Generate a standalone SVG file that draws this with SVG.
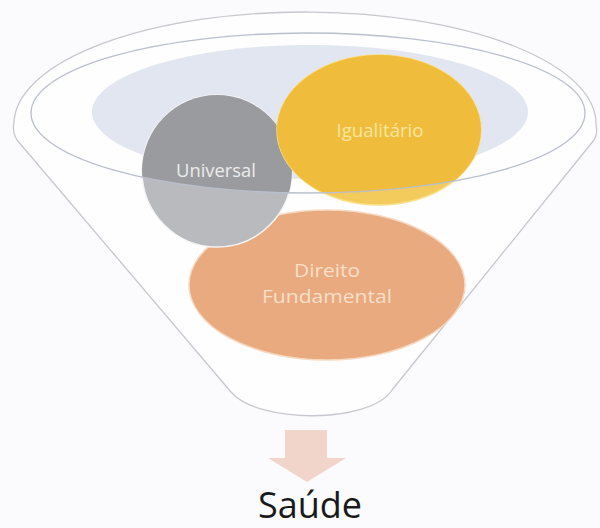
<svg xmlns="http://www.w3.org/2000/svg" width="600" height="528" viewBox="0 0 600 528">
  <style>
    .lbl { font-family: "Open Sans", "Noto Sans", "Liberation Sans", sans-serif; text-anchor: middle; }
    .rimline { fill: none; stroke: #b9bfcb; stroke-width: 1.3; }
    .edge { stroke-width: 1.5; }
  </style>
  <defs>
    <clipPath id="rim"><ellipse cx="308" cy="113" rx="277" ry="80"/></clipPath>
  </defs>
  <rect x="0" y="0" width="600" height="528" fill="#fbfafd"/>

  <g id="funnel">
    <path d="M 17,140 Q 12,132 14,122 A 291 112 0 0 1 596,126 Q 598,134 594,140 L 392,390 C 370,424 258,424 231,392 Z" fill="#fefeff" stroke="#c6c8cd" stroke-width="1.3"/>
    <ellipse cx="308" cy="113" rx="277" ry="80" fill="#fefeff" stroke="none"/>
    <ellipse cx="310" cy="112" rx="218" ry="67" fill="#e2e6f0"/>
  </g>

  <g id="node-direito">
    <ellipse cx="327" cy="285" rx="138" ry="75" fill="#e8aa7e" stroke="#f6d9c2" class="edge"/>
    <text class="lbl" x="327" y="277" font-size="18" fill="#f8dfcb" textLength="66" lengthAdjust="spacingAndGlyphs">Direito</text>
    <text class="lbl" x="327" y="303" font-size="18" fill="#f8dfcb" textLength="130" lengthAdjust="spacingAndGlyphs">Fundamental</text>
  </g>

  <g id="node-universal">
    <ellipse cx="217" cy="171" rx="75" ry="76" fill="#b8babe" stroke="#f4f4f6" class="edge"/>
    <ellipse cx="217" cy="171" rx="75" ry="76" fill="#9a9b9e" clip-path="url(#rim)"/>
    <text class="lbl" x="216" y="177" font-size="18" fill="#ececec" textLength="80" lengthAdjust="spacingAndGlyphs">Universal</text>
  </g>

  <g id="node-igualitario">
    <ellipse cx="379" cy="130" rx="102" ry="75" fill="#f3cb5c" stroke="#f9e08a" class="edge"/>
    <ellipse cx="379" cy="130" rx="102" ry="75" fill="#f0bc3b" clip-path="url(#rim)"/>
    <text class="lbl" x="380" y="137" font-size="18" fill="#f8e6a0" textLength="87" lengthAdjust="spacingAndGlyphs">Igualitário</text>
  </g>

  <g id="rim-outline">
    <ellipse class="rimline" cx="308" cy="113" rx="277" ry="80"/>
  </g>

  <g id="connectors">
    <path d="M 285,430 L 327,430 L 327,458 L 346,458 L 307,482 L 268,458 L 285,458 Z" fill="#f1d5cb"/>
  </g>

  <g id="node-saude">
    <text class="lbl" x="310" y="518" font-size="36" fill="#1a1a1a">Saúde</text>
  </g>
</svg>
